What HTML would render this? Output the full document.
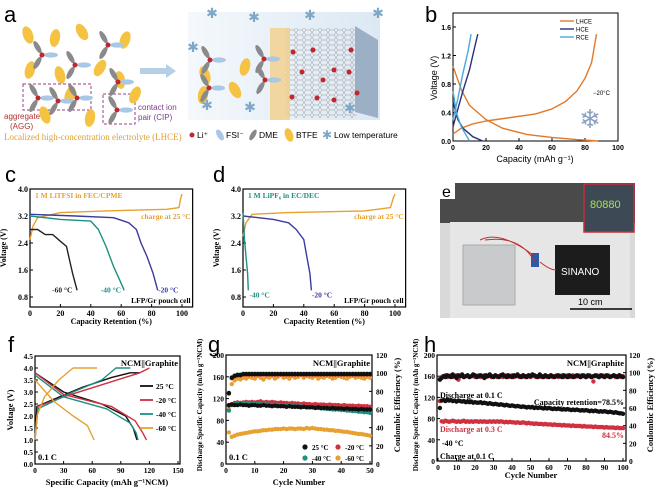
<!DOCTYPE html>
<html><head><meta charset="utf-8"><style>
body{margin:0;background:#fff}
svg{display:block;font-family:"Liberation Serif",serif}
.sans{font-family:"Liberation Sans",sans-serif}
</style></head><body>
<svg id="fig" width="658" height="493" viewBox="0 0 658 493" xmlns="http://www.w3.org/2000/svg">
<defs>
<linearGradient id="boxg" x1="0" x2="1" y1="0" y2="0"><stop offset="0" stop-color="#f4f8fc"/><stop offset="1" stop-color="#dce8f3"/></linearGradient>
<pattern id="hex" width="8" height="5" patternUnits="userSpaceOnUse"><path d="M0 2.5 L2 0 L6 0 L8 2.5 L6 5 L2 5 Z" fill="none" stroke="#999" stroke-width="0.5"/></pattern>
</defs>
<g id="pa">
<text x="4" y="22" font-size="22" class="sans">a</text>
<rect x="188" y="12" width="192" height="108" fill="url(#boxg)"/>
<rect x="285" y="28" width="72" height="90" fill="url(#hex)"/>
<polygon points="355,26 378,40 378,118 355,112" fill="#9bb0c4"/>
<polygon points="270,28 290,28 290,120 270,120" fill="#f3d08a" opacity="0.8"/>
<polygon points="140,68 166,68 166,64 176,71 166,78 166,74 140,74" fill="#b7cfe6"/>
<rect x="23" y="84" width="68" height="26" fill="none" stroke="#9a3c8a" stroke-dasharray="3,2"/>
<rect x="103" y="94" width="32" height="30" fill="none" stroke="#9a3c8a" stroke-dasharray="3,2"/>
<text x="4" y="119" font-size="8" fill="#b03030" class="sans">aggregate</text>
<text x="10" y="129" font-size="8" fill="#b03030" class="sans">(AGG)</text>
<text x="138" y="110" font-size="8" fill="#7a3c8a" class="sans">contact ion</text>
<text x="138" y="120" font-size="8" fill="#7a3c8a" class="sans">pair (CIP)</text>
<text x="4" y="140" font-size="9" fill="#e0a030">Localized high-concentration electrolyte (LHCE)</text>
<g class="sans" font-size="8.5">
<circle cx="192" cy="135" r="2.5" fill="#c0262d"/><text x="197" y="138">Li⁺</text>
<ellipse cx="220" cy="135" rx="3" ry="6" fill="#a9c8e8" transform="rotate(-30 220 135)"/><text x="226" y="138">FSI⁻</text>
<ellipse cx="253" cy="135" rx="2.5" ry="6" fill="#888" transform="rotate(30 253 135)"/><text x="259" y="138">DME</text>
<ellipse cx="289" cy="135" rx="4" ry="7" fill="#f5c242" transform="rotate(-20 289 135)"/><text x="296" y="138">BTFE</text>
<text x="322" y="139" font-size="12" fill="#7fa8c8">✱</text><text x="334" y="138">Low temperature</text>
</g>
<g id="molecules"></g>
</g>

<g>
<rect x="440" y="183" width="195" height="135" fill="#d9d9d9"/>
<rect x="440" y="183" width="195" height="40" fill="#4a4a4a"/>
<rect x="450" y="222" width="180" height="96" fill="#e6e6e6"/>
<rect x="440" y="183" width="15" height="16" fill="#fff"/>
<text x="442" y="197" font-size="16" class="sans">e</text>
<rect x="584" y="184" width="50" height="48" fill="#3d4a56" stroke="#c0303a" stroke-width="1.5"/>
<text x="590" y="208" font-size="11" fill="#a8e048" class="sans">80880</text>
<rect x="463" y="245" width="52" height="60" fill="#c8cacc" stroke="#aaa"/>
<rect x="555" y="245" width="55" height="50" fill="#1c1c1c"/>
<text x="561" y="275" font-size="10" fill="#fff" class="sans">SINANO</text>
<rect x="531" y="253" width="8" height="14" fill="#2a5aa8"/>
<path d="M480 240 Q500 230 533 255 M485 240 Q520 235 535 262 M540 262 Q550 270 556 270" stroke="#c03030" fill="none"/>
<line x1="570" y1="309" x2="632" y2="309" stroke="#000" stroke-width="1.5"/>
<text x="578" y="305" font-size="9" class="sans">10 cm</text>
</g>
<g id="charts"></g>
</svg>
<script>
const bLHCEdis=[[0,1.05],[5,0.72],[10,0.5],[20,0.3],[30,0.18],[45,0.09],[60,0.05],[75,0.02],[88,0]];
const bLHCEchg=[[0,0.1],[5,0.18],[12,0.24],[20,0.28],[35,0.33],[50,0.38],[60,0.45],[68,0.55],[75,0.7],[80,0.88],[84,1.1],[87,1.5]];
const bHCEdis=[[0,0.55],[3,0.3],[6,0.18],[12,0.06],[18,0]];
const bHCEchg=[[0,0.2],[3,0.45],[6,0.7],[10,1.0],[13,1.3],[15,1.5]];
const bRCEdis=[[0,0.7],[2,0.4],[5,0.2],[10,0]];
const bRCEchg=[[0,0.3],[3,0.6],[6,0.95],[9,1.25],[11,1.5]];

const cChg=[[0,2.5],[2,2.9],[5,3.15],[20,3.3],[50,3.35],[90,3.4],[98,3.45],[99,3.7],[100,3.85]];
const c20=[[0,3.25],[30,3.2],[55,3.15],[65,3.0],[70,2.8],[73,2.4],[77,2.0],[81,1.5],[84,1.0]];
const c40=[[0,3.2],[20,3.1],[40,3.05],[45,2.8],[50,2.3],[55,1.7],[59,1.3],[62,1.0]];
const c60=[[0,2.8],[5,2.8],[10,2.65],[15,2.65],[20,2.45],[24,2.3],[26,1.9],[28,1.5],[31,1.0]];
const dChg=[[0,2.6],[2,3.0],[6,3.25],[30,3.3],[80,3.35],[97,3.45],[99,3.75],[100,3.85]];
const d20=[[0,3.2],[10,3.15],[20,3.1],[30,3.0],[35,2.8],[40,2.5],[42,2.0],[44,1.5],[45,1.0]];
const d40=[[0,3.3],[1,2.5],[2,2.0],[3,1.5],[3.5,1.0]];

const fChg25=[[0,1.1],[2,2.4],[20,2.7],[50,3.2],[80,3.6],[100,3.8],[110,3.8]];
const fChg20=[[0,1.0],[3,2.4],[30,2.8],[70,3.3],[110,3.8],[120,4.0]];
const fChg40=[[0,1.0],[3,2.3],[40,3.0],[70,3.5],[85,4.0],[100,4.0]];
const fChg60=[[0,1.0],[2,2.0],[10,2.8],[25,3.5],[40,4.0],[65,4.0]];
const fDis25=[[0,3.8],[30,3.0],[70,2.5],[95,2.0],[103,1.5],[107,1.0]];
const fDis20=[[0,3.8],[30,2.9],[80,2.4],[105,1.8],[113,1.3],[117,1.0]];
const fDis40=[[0,3.7],[30,2.8],[75,2.3],[100,1.7],[106,1.3],[108,1.0]];
const fDis60=[[0,3.5],[20,2.6],[40,2.0],[55,1.6],[62,1.0]];

const gCap25=[108,109,108,108,109,108,108,107,108,108,107,107,108,107,107,106,107,106,106,106,105,106,105,105,105,104,105,104,104,104,103,104,103,103,103,102,103,102,102,102,101,102,101,101,101,100,101,100,100,100];
const gCap20=[107,110,112,113,112,113,114,113,114,113,114,115,113,114,113,114,113,112,113,112,112,111,112,111,111,110,111,110,110,109,110,109,109,109,108,109,108,108,108,107,108,107,107,107,106,107,106,106,106,105];
const gCap40=[98,108,110,111,112,111,112,111,110,111,110,110,109,110,109,108,109,108,107,108,107,107,106,106,105,106,105,104,104,104,103,103,102,102,101,101,100,100,100,99,99,98,98,97,97,96,96,95,95,94];
const gCap60=[58,50,52,54,55,56,57,58,59,60,60,61,62,62,63,63,64,64,64,65,64,65,65,64,65,65,64,66,65,66,65,64,64,63,63,62,62,61,61,60,59,59,58,57,56,55,55,54,53,52];
const gCE25=[78,95,97,98,98,99,99,99,99,99,99,99,99,99,99,99,99,99,99,99,99,99,99,99,99,99,99,99,99,99,99,99,99,99,99,99,99,99,99,99,99,99,99,99,99,99,99,99,99,99];
const gCE60=[60,88,92,94,93,95,94,96,95,94,97,95,93,96,95,97,94,96,98,95,96,94,97,95,96,98,95,97,96,95,97,94,96,95,97,96,94,95,97,96,95,94,96,97,95,96,95,94,96,95];

const hCap01=[100,114,115,113,116,114,115,113,114,112,114,113,112,113,111,112,111,112,110,111,110,110,111,109,110,109,108,109,108,107,108,107,106,107,106,105,106,105,104,105,104,103,104,103,102,103,102,101,102,101,102,100,101,100,101,100,99,100,99,100,99,98,99,98,99,98,97,98,97,98,97,96,97,96,97,96,95,96,95,96,95,94,95,94,95,94,93,94,93,94,93,92,93,92,91,92,91,90,90,89];
const hCap03=[113,75,74,76,75,74,75,76,75,74,75,74,75,76,74,75,74,75,74,75,75,74,75,74,75,74,74,75,74,75,74,75,74,75,74,73,74,73,74,73,73,72,73,72,72,73,72,71,72,71,71,70,71,70,70,70,69,70,69,69,69,68,69,68,68,68,67,68,67,67,67,66,67,66,66,66,66,65,66,65,65,65,65,64,65,64,64,64,64,63,64,63,63,63,63,62,63,62,62,62];
const hCE01=[92,94,96,95,97,96,95,98,96,94,97,96,98,95,96,97,95,96,98,97,95,96,97,96,94,97,96,98,96,95,97,96,95,97,98,96,95,97,96,95,97,96,98,96,95,97,96,95,97,96,98,97,96,95,98,96,95,97,96,95,97,96,95,96,97,96,95,97,96,95,97,96,95,96,97,96,95,97,96,95,97,96,95,96,97,96,95,97,96,95,97,96,95,96,97,96,95,97,96,95];
const hCE03=[93,95,96,97,95,96,97,95,96,97,92,96,97,95,96,97,95,96,97,95,96,97,95,96,97,95,96,97,95,96,97,95,96,97,95,96,97,95,96,97,95,96,97,95,96,97,95,96,97,95,96,97,95,96,97,95,96,97,95,96,97,95,96,97,95,96,97,95,96,97,95,96,97,95,96,97,95,96,97,95,96,97,95,90,96,97,95,96,97,95,96,97,95,96,97,95,96,97,95,96];

const NS='http://www.w3.org/2000/svg';
const root=document.getElementById('charts');
function el(tag,attrs,parent){const e=document.createElementNS(NS,tag);for(const k in attrs)e.setAttribute(k,attrs[k]);(parent||root).appendChild(e);return e;}
function sc(d0,d1,r0,r1){return v=>r0+(v-d0)*(r1-r0)/(d1-d0);}
function txt(x,y,s,opt,parent){const t=el('text',Object.assign({x:x,y:y,'font-size':9},opt||{}),parent);t.textContent=s;return t;}

function axes(name,box,xs,ys,xt,yt,opts){
  const g=el('g',{});
  
  
  const f=el('rect',{x:box[0],y:box[1],width:box[2]-box[0],height:box[3]-box[1],fill:'none',stroke:'#000','stroke-width':opts.sw||1.2},g);
  
  
  xt.forEach(v=>{const x=xs(v);el('line',{x1:x,x2:x,y1:box[3],y2:box[3]-3,stroke:'#000'},g);
    const t=txt(x,box[3]+9,String(v),{'text-anchor':'middle','font-size':opts.fs||8,'font-weight':'bold',class:opts.cls||''},g);
    
    });
  yt.forEach(v=>{const y=ys(v);el('line',{x1:box[0],x2:box[0]+3,y1:y,y2:y,stroke:'#000'},g);
    const t=txt(box[0]-2,y+3,opts.yfmt?opts.yfmt(v):String(v),{'text-anchor':'end','font-size':opts.fs||8,'font-weight':'bold',class:opts.cls||''},g);
    
    });
  return g;
}
function line(pts,xs,ys,color,name,w){
  const p=el('polyline',{points:pts.map(q=>xs(q[0]).toFixed(1)+','+ys(q[1]).toFixed(1)).join(' '),fill:'none',stroke:color,'stroke-width':w||1.4,'stroke-linejoin':'round'});
  
  
}
function dots(vals,xs,ys,color,name,r){
  const g=el('g',{fill:color});
  
  
  vals.forEach((v,i)=>{const c=el('circle',{cx:xs(i+1).toFixed(1),cy:ys(v).toFixed(1),r:r||2.2},g);
    
    });
}
function rot(x,y,s,opt,name){const t=txt(x,y,s,Object.assign({'text-anchor':'middle',transform:'rotate(-90 '+x+' '+y+')','font-weight':'bold'},opt));
  
  return t;}
function lab(x,y,s,opt,name){const t=txt(x,y,s,opt);
  
  return t;}

// panel b
{const xs=sc(0,100,453,618),ys=sc(0,1.6,141,27);
axes('panel-b',[453,13,618,141],xs,ys,[0,20,40,60,80,100],[0,0.4,0.8,1.2,1.6],{fs:7,cls:'sans',sw:1,yfmt:v=>v.toFixed(1)});
lab(425,22,'b',{'font-size':22,class:'sans'},'panel-label-b');
rot(437,78,'Voltage (V)',{class:'sans','font-size':9,'font-weight':'normal'},'panel-b-y-title');
lab(535,162,'Capacity (mAh g⁻¹)',{class:'sans','font-size':9,'text-anchor':'middle'},'panel-b-x-title');
line(bLHCEdis,xs,ys,'#e07a2a','lhce-discharge');line(bLHCEchg,xs,ys,'#e07a2a','lhce-charge');
line(bHCEdis,xs,ys,'#2a2f7a','hce-discharge');line(bHCEchg,xs,ys,'#2a2f7a','hce-charge');
line(bRCEdis,xs,ys,'#4aa8d8','rce-discharge');line(bRCEchg,xs,ys,'#4aa8d8','rce-charge');
[['LHCE','#e07a2a',21],['HCE','#2a2f7a',29],['RCE','#4aa8d8',37]].forEach(a=>{
  const l=el('line',{x1:560,x2:574,y1:a[2],y2:a[2],stroke:a[1],'stroke-width':1.4});
  
  
  lab(576,a[2]+2.5,a[0],{'font-size':6,class:'sans'},'legend-entry-'+a[0].toLowerCase());});
lab(593,95,'−20°C',{'font-size':6,class:'sans'},'panel-b-temp');
lab(590,128,'❄',{'font-size':26,fill:'#8aa0c0','text-anchor':'middle'},'snowflake-icon');}

// panels c & d
[['c',30,182,cChg,[[c20,'#3a3aa0','-20 °C',[83,1.0]],[c40,'#1e9080','-40 °C',[61,1.0]],[c60,'#222','-60 °C',[29,1.0]]],'1 M LiTFSI in FEC/CPME','#e8a030',5],
 ['d',243,395,dChg,[[d20,'#3a3aa0','-20 °C',[44,0.85]],[d40,'#1e9080','-40 °C',[3,0.85]]],'1 M LiPF₆ in EC/DEC','#1e9080',213]].forEach(P=>{
  const [n,x0,x100,chg,dis,title,tc,lx]=P;
  const right=x100+(x100-x0)*0.07;
  const xs=sc(0,100,x0,x100),ys=sc(0.8,4.0,297,189);
  axes('panel-'+n,[x0,189,right,307],xs,ys,[0,20,40,60,80,100],[0.8,1.6,2.4,3.2,4.0],{fs:8,yfmt:v=>v.toFixed(1)});
  lab(lx,182,n,{'font-size':22,class:'sans'},'panel-label-'+n);
  rot(x0-24,248,'Voltage (V)',{'font-size':8},'panel-'+n+'-y-title');
  lab((x0+right)/2,324,'Capacity Retention (%)',{'font-size':8,'font-weight':'bold','text-anchor':'middle'},'panel-'+n+'-x-title');
  lab(x0+5,198,title,{'font-size':7.5,'font-weight':'bold',fill:tc},'panel-'+n+'-electrolyte');
  lab(right-2,219,'charge at 25 °C',{'font-size':7.5,'font-weight':'bold',fill:'#e8a030','text-anchor':'end'},'panel-'+n+'-charge-label');
  lab(right-2,303,'LFP/Gr pouch cell',{'font-size':7.5,'font-weight':'bold','text-anchor':'end'},'panel-'+n+'-cell-label');
  line(chg,xs,ys,'#e8a030','panel-'+n+'-charge-curve');
  dis.forEach(D=>{line(D[0],xs,ys,D[1],'panel-'+n+'-discharge-'+D[2].replace(/[^0-9]/g,''));
    lab(xs(D[3][0])+ (n==='c'&&D[2]!=='-20 °C'?-22:2),ys(D[3][1])+2,D[2],{'font-size':7.5,'font-weight':'bold',fill:D[1]},'panel-'+n+'-label-'+D[2].replace(/[^0-9]/g,''));});
});

// panel f
{const xs=sc(0,150,35,178),ys=sc(0,4.5,464,356);
axes('panel-f',[35,356,180,464],xs,ys,[0,30,60,90,120,150],[0,0.5,1,1.5,2,2.5,3,3.5,4,4.5],{fs:7.5,yfmt:v=>v.toFixed(1)});
lab(8,352,'f',{'font-size':22,class:'sans'},'panel-label-f');
rot(13,410,'Voltage (V)',{'font-size':8.5},'panel-f-y-title');
lab(107,485,'Specific Capacity (mAh g⁻¹NCM)',{'font-size':8.5,'font-weight':'bold','text-anchor':'middle'},'panel-f-x-title');
lab(178,366,'NCM||Graphite',{'font-size':8.5,'font-weight':'bold','text-anchor':'end'},'panel-f-system');
lab(38,460,'0.1 C',{'font-size':8.5,'font-weight':'bold'},'panel-f-rate');
const C={'25':'#111','20':'#d03040','40':'#1e9080','60':'#e8a030'};
[[fChg25,fDis25,'25'],[fChg20,fDis20,'20'],[fChg40,fDis40,'40'],[fChg60,fDis60,'60']].forEach(s=>{
  line(s[0],xs,ys,C[s[2]],'panel-f-charge-'+s[2]);line(s[1],xs,ys,C[s[2]],'panel-f-discharge-'+s[2]);});
[['25 °C','25'],['-20 °C','20'],['-40 °C','40'],['-60 °C','60']].forEach((a,i)=>{
  const y=386+i*14;
  const l=el('line',{x1:140,x2:153,y1:y,y2:y,stroke:C[a[1]],'stroke-width':1.8});
  
  
  lab(156,y+3,a[0],{'font-size':7.5,'font-weight':'bold'},'panel-f-legend-entry');});}

// panel g
{const xs=sc(0,50,226,370),ys=sc(0,200,464,355),ys2=sc(0,120,464,355);
axes('panel-g',[226,355,372,464],xs,ys,[0,10,20,30,40,50],[0,40,80,120,160,200],{fs:7.5});
[0,20,40,60,80,100,120].forEach(v=>{el('line',{x1:372,x2:369,y1:ys2(v),y2:ys2(v),stroke:'#000'});
  lab(376,ys2(v)+3,String(v),{'font-size':7.5,'font-weight':'bold'},'panel-g-right-tick-label');});
lab(208,352,'g',{'font-size':22,class:'sans'},'panel-label-g');
rot(202,405,'Discharge Specific Capacity (mAh g⁻¹NCM)',{'font-size':7},'panel-g-y-title');
rot(400,405,'Coulombic Efficiency (%)',{'font-size':8.5},'panel-g-y2-title');
lab(299,485,'Cycle Number',{'font-size':8.5,'font-weight':'bold','text-anchor':'middle'},'panel-g-x-title');
lab(370,366,'NCM||Graphite',{'font-size':8.5,'font-weight':'bold','text-anchor':'end'},'panel-g-system');
lab(229,460,'0.1 C',{'font-size':8.5,'font-weight':'bold'},'panel-g-rate');
dots(gCE60,xs,ys2,'#e8a030','g-ce-60');dots(gCE25.map(v=>v-0.5),xs,ys2,'#d03040','g-ce-20');
dots(gCE25.map(v=>v+0.3),xs,ys2,'#1e9080','g-ce-40');dots(gCE25,xs,ys2,'#111','g-ce-25');
dots(gCap60,xs,ys,'#e8a030','g-cap-60');dots(gCap20,xs,ys,'#d03040','g-cap-20');dots(gCap40,xs,ys,'#1e9080','g-cap-40');dots(gCap25,xs,ys,'#111','g-cap-25');
[['25 °C','#111',312,450],['-20 °C','#d03040',345,450],['-40 °C','#1e9080',312,461],['-60 °C','#e8a030',345,461]].forEach(a=>{
  const c=el('circle',{cx:a[2]-7,cy:a[3]-3,r:2.6,fill:a[1]});
  
  
  lab(a[2],a[3],a[0],{'font-size':7,'font-weight':'bold'},'panel-g-legend-entry');});}

// panel h
{const xs=sc(0,100,438,623),ys=sc(0,200,461,355),ys2=sc(0,120,461,355);
axes('panel-h',[437,355,626,461],xs,ys,[0,10,20,30,40,50,60,70,80,90,100],[0,40,80,120,160,200],{fs:7.5});
[0,20,40,60,80,100,120].forEach(v=>{el('line',{x1:626,x2:623,y1:ys2(v),y2:ys2(v),stroke:'#000'});
  lab(629,ys2(v)+3,String(v),{'font-size':7.5,'font-weight':'bold'},'panel-h-right-tick-label');});
lab(424,352,'h',{'font-size':22,class:'sans'},'panel-label-h');
rot(418,405,'Discharge Specific Capacity (mAh g⁻¹NCM)',{'font-size':7},'panel-h-y-title');
rot(653,405,'Coulombic Efficiency (%)',{'font-size':8.5},'panel-h-y2-title');
lab(531,478,'Cycle Number',{'font-size':8.5,'font-weight':'bold','text-anchor':'middle'},'panel-h-x-title');
lab(624,366,'NCM||Graphite',{'font-size':8.5,'font-weight':'bold','text-anchor':'end'},'panel-h-system');
dots(hCE03,xs,ys2,'#d03040','h-ce-03',2.2);dots(hCE01,xs,ys2,'#111','h-ce-01',2.2);
dots(hCap03,xs,ys,'#d03040','h-cap-03',2.2);dots(hCap01,xs,ys,'#111','h-cap-01',2.2);
lab(440,398,'Discharge at 0.1 C',{'font-size':8,'font-weight':'bold'},'h-label-01');
lab(624,405,'Capacity retention=78.5%',{'font-size':8,'font-weight':'bold','text-anchor':'end'},'h-retention-01');
lab(440,432,'Discharge at 0.3 C',{'font-size':8,'font-weight':'bold',fill:'#d03040'},'h-label-03');
lab(624,438,'84.5%',{'font-size':8,'font-weight':'bold',fill:'#d03040','text-anchor':'end'},'h-retention-03');
lab(442,446,'-40 °C',{'font-size':8,'font-weight':'bold'},'h-temp');
lab(440,459,'Charge at 0.1 C',{'font-size':8,'font-weight':'bold'},'h-charge');}

// schematic molecules
const mol=document.getElementById('molecules');
const yellow=[[28,35,-20],[55,38,10],[82,32,-30],[125,40,20],[30,70,15],[60,75,-15],[100,68,30],[120,80,-10],[70,95,20],[45,115,-20],[90,118,10],[135,95,25],[205,75,-20],[245,67,15],[235,90,-30],[203,95,10]];
yellow.forEach(p=>{const e=el('ellipse',{cx:p[0],cy:p[1],rx:5,ry:9,fill:'#f5c242',transform:`rotate(${p[2]} ${p[0]} ${p[1]})`},mol);
  
  });
const centers=[[42,55],[75,65],[108,45],[118,82],[38,98],[58,101],[77,98],[117,110],[210,60],[209,88],[264,59],[265,80]];
centers.forEach(c=>{
  [0,120,240].forEach((a,i)=>{const r=a*Math.PI/180;const x=c[0]+Math.cos(r)*9,y=c[1]+Math.sin(r)*9;
    const e=el('ellipse',{cx:x,cy:y,rx:2.6,ry:7,fill:i===0?'#a9c8e8':'#8a8a8a',transform:`rotate(${a+90} ${x} ${y})`},mol);
    
    });
  const d=el('circle',{cx:c[0],cy:c[1],r:2.5,fill:'#c0262d'},mol);
  
  });
[[293,52],[313,50],[351,50],[302,72],[334,70],[349,72],[323,80],[292,97],[317,98],[334,100],[357,93]].forEach(c=>{
  const d=el('circle',{cx:c[0],cy:c[1],r:2.5,fill:'#c0262d'},mol);
  
  });
[[212,18],[254,22],[310,20],[378,18],[193,52],[207,110],[250,112],[350,113]].forEach(c=>{
  const t=txt(c[0],c[1],'✱',{'font-size':14,fill:'#7fa8c8','text-anchor':'middle'},mol);
  
  });
</script>
</body></html>
